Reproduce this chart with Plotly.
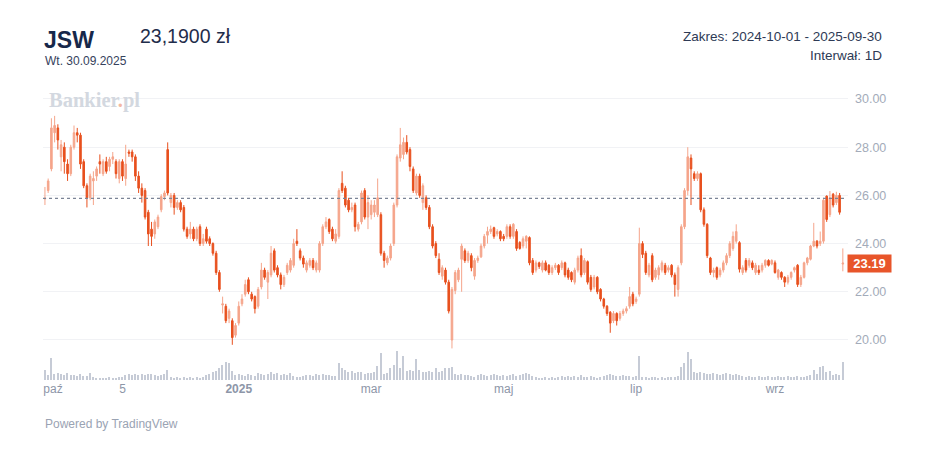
import pandas as pd
import plotly.graph_objects as go

# trading days on GPW, 2024-10-01 .. 2025-09-30
holidays = ["2024-11-01", "2024-11-11", "2024-12-24", "2024-12-25", "2024-12-26",
            "2024-12-31", "2025-01-01", "2025-01-06", "2025-04-18", "2025-04-21",
            "2025-05-01", "2025-06-19", "2025-08-15"]
days = pd.bdate_range("2024-10-01", "2025-09-30")
days = [d for d in days if d.strftime("%Y-%m-%d") not in holidays]
dates = [d.strftime("%d.%m.%Y") for d in days]

# OHLC, one line per month (paz .. wrz)
opens = [
    25.85, 26.2, 27.1, 28.6, 28.8, 27.6, 28.0, 27.3, 26.9, 28.0, 28.6, 28.5, 27.4, 26.4, 25.9, 26.6, 26.8, 27.4, 26.9, 27.4, 27.2, 27.5, 27.4,
    26.7, 27.4, 26.7, 27.8, 27.8, 27.6, 26.8, 26.3, 26.2, 25.3, 24.6, 24.4, 24.7, 25.4, 25.95, 27.9, 25.7, 26.0, 25.5,
    25.7, 25.5, 24.6, 24.4, 24.6, 24.2, 24.7, 24.0, 24.6, 24.2, 24.0, 23.6, 22.8, 21.45, 21.4, 20.9, 20.8, 20.2,
    20.7, 21.5, 21.9, 22.5, 21.9, 21.8, 21.4, 22.2, 22.9, 22.4, 22.7, 23.7, 23.0, 22.7, 22.3, 22.8, 22.9, 23.1, 24.1, 23.7, 23.4,
    22.9, 23.1, 23.3, 22.9, 22.9, 24.0, 24.7, 25.0, 24.6, 24.1, 24.3, 26.5, 26.3, 25.8, 25.4, 25.6, 24.6, 24.9, 26.2, 25.1,
    25.2, 25.3, 25.2, 25.2, 23.6, 23.2, 23.4, 24.0, 25.6, 27.55, 27.7, 28.2, 27.9, 27.1, 26.1, 26.8, 25.7, 25.9, 25.5, 24.7, 24.0,
    23.35, 22.65, 22.9, 22.4, 20.0, 22.05, 22.5, 23.35, 23.7, 23.3, 23.5, 22.65, 23.3, 23.45, 23.9, 24.35, 24.5, 24.66, 24.4, 24.5,
    24.3, 24.3, 24.7, 24.3, 24.5, 24.05, 23.9, 24.1, 24.25, 23.3, 22.9, 23.2, 22.9, 23.2, 23.1, 22.8, 23.0, 23.1, 23.0, 23.2, 22.9,
    22.8, 22.4, 22.9, 23.5, 22.8, 23.25, 22.6, 22.2, 22.6, 22.1, 21.7, 21.4, 21.15, 20.8, 21.1, 20.9, 21.1, 21.2, 21.4, 21.9,
    21.6, 21.9, 24.0, 23.6, 22.7, 23.5, 22.6, 22.7, 22.9, 23.1, 22.9, 23.1, 22.7, 22.1, 23.2, 24.7, 26.2, 27.55, 26.9, 26.7, 26.9, 25.4, 24.8,
    23.4, 22.8, 23.0, 22.7, 22.9, 23.2, 23.5, 23.8, 24.1, 24.04, 22.8, 23.3, 23.1, 23.2, 22.8, 22.9, 22.9, 23.1, 23.3, 23.15,
    23.2, 22.6, 22.8, 22.6, 22.4, 22.6, 22.9, 23.1, 22.3, 22.6, 23.2, 23.35, 23.9, 24.1, 24.0, 24.1, 25.97, 25.2, 26.05, 25.7, 26.0, 23.15,
]
highs = [
    26.35, 26.7, 29.2, 29.3, 28.95, 28.3, 28.2, 27.5, 28.1, 28.9, 28.8, 28.6, 27.5, 26.5, 26.9, 27.0, 27.2, 27.7, 27.5, 27.6, 27.6, 27.8, 27.5,
    27.5, 27.5, 28.1, 27.9, 27.9, 27.7, 27.0, 26.5, 26.3, 25.4, 24.9, 25.0, 25.2, 26.05, 26.2, 28.2, 26.1, 26.1, 25.8,
    25.8, 25.6, 24.7, 24.9, 24.7, 24.7, 24.8, 24.4, 24.7, 24.3, 24.05, 23.7, 22.9, 21.8, 21.5, 21.3, 20.9, 20.7,
    21.6, 21.9, 22.5, 22.6, 22.0, 21.85, 22.2, 23.2, 23.0, 22.9, 23.9, 23.8, 23.1, 22.8, 22.7, 23.2, 23.4, 24.2, 24.6, 23.8, 23.5,
    23.3, 23.4, 23.4, 23.3, 24.1, 24.8, 25.1, 25.05, 24.7, 24.6, 26.3, 27.0, 26.4, 25.9, 25.7, 25.7, 24.9, 26.2, 26.3, 26.0,
    25.8, 25.8, 26.7, 25.3, 23.7, 23.5, 24.0, 25.7, 27.7, 28.8, 28.4, 28.5, 28.0, 27.2, 26.9, 26.9, 26.5, 26.0, 25.6, 24.8, 24.1,
    23.6, 23.1, 23.0, 22.5, 22.2, 22.9, 23.0, 24.0, 23.8, 23.7, 23.6, 23.4, 23.5, 24.0, 24.4, 24.7, 24.75, 24.7, 24.6, 24.55,
    24.4, 24.8, 24.8, 24.85, 24.6, 24.1, 24.3, 24.35, 24.3, 23.4, 23.3, 23.25, 23.3, 23.3, 23.15, 23.1, 23.2, 23.15, 23.3, 23.25, 23.0,
    22.85, 23.0, 23.5, 23.8, 23.4, 23.3, 22.7, 22.7, 22.65, 22.15, 21.75, 21.45, 21.2, 21.2, 21.15, 21.2, 21.3, 21.4, 22.2, 22.0,
    21.8, 24.66, 24.1, 23.7, 23.2, 23.6, 23.0, 23.1, 23.3, 23.2, 23.1, 23.15, 22.8, 23.1, 24.8, 26.3, 28.0, 27.7, 27.0, 27.0, 26.95, 25.5, 24.85,
    23.45, 23.0, 23.05, 23.0, 23.3, 23.6, 24.1, 24.5, 24.8, 24.1, 23.1, 23.4, 23.4, 23.3, 23.2, 23.1, 23.2, 23.35, 23.35, 23.35,
    23.3, 22.95, 22.85, 22.65, 22.7, 22.85, 23.05, 23.15, 22.7, 23.25, 23.45, 23.95, 24.86, 24.15, 24.5, 25.9, 26.0, 26.18, 26.1, 26.15, 26.1, 23.8,
]
lows = [
    25.6, 26.1, 27.0, 28.2, 27.9, 27.0, 26.9, 26.6, 26.8, 27.9, 28.2, 27.1, 26.3, 25.5, 25.8, 25.6, 26.6, 26.9, 26.8, 26.9, 27.0, 27.3, 26.7,
    26.5, 26.6, 26.4, 27.6, 27.4, 26.6, 26.1, 25.7, 25.0, 23.9, 23.9, 24.2, 24.6, 25.3, 25.8, 26.0, 25.5, 25.2, 25.4,
    25.3, 24.5, 24.2, 24.2, 24.1, 24.1, 23.9, 23.9, 24.0, 23.9, 23.5, 22.7, 22.0, 21.1, 20.7, 20.7, 19.8, 20.1,
    20.6, 21.4, 21.8, 21.9, 21.6, 21.1, 21.3, 22.1, 22.5, 21.7, 22.6, 22.8, 22.6, 22.1, 22.2, 22.7, 22.8, 23.0, 23.9, 23.3, 23.0,
    22.8, 23.0, 22.9, 22.8, 22.8, 23.9, 24.6, 24.4, 24.1, 24.0, 24.2, 26.1, 25.5, 25.3, 25.3, 24.5, 24.5, 24.8, 25.0, 24.6,
    25.0, 25.1, 25.1, 23.5, 23.0, 23.1, 23.3, 23.9, 25.5, 27.4, 27.5, 27.7, 27.0, 26.1, 26.0, 25.9, 25.4, 25.4, 24.6, 23.8, 23.4,
    22.7, 22.5, 22.3, 21.1, 19.65, 21.9, 22.4, 22.0, 23.2, 23.2, 22.85, 22.5, 23.2, 23.4, 23.8, 24.0, 24.4, 24.2, 24.3, 24.1,
    24.1, 24.2, 24.2, 24.2, 23.7, 23.75, 23.8, 23.8, 23.1, 22.7, 22.8, 22.95, 22.8, 22.85, 22.7, 22.7, 22.9, 22.7, 22.9, 22.6, 22.5,
    22.4, 22.3, 22.8, 22.6, 22.7, 22.3, 22.0, 22.1, 21.9, 21.6, 21.3, 21.0, 20.3, 20.7, 20.6, 20.8, 21.0, 21.1, 21.3, 21.4,
    21.5, 21.8, 23.4, 22.7, 22.6, 22.4, 22.5, 22.5, 22.8, 22.7, 22.8, 22.6, 21.8, 21.8, 23.1, 24.6, 26.0, 25.6, 26.6, 26.6, 25.3, 24.7, 23.4,
    22.7, 22.6, 22.5, 22.6, 22.8, 23.1, 23.4, 23.7, 24.0, 22.8, 22.7, 22.8, 23.0, 22.9, 22.7, 22.7, 22.8, 23.0, 23.05, 23.1,
    22.75, 22.5, 22.5, 22.2, 22.3, 22.5, 22.8, 22.2, 22.2, 22.55, 23.1, 23.3, 23.85, 23.8, 23.9, 24.0, 24.9, 25.1, 25.5, 25.6, 25.2, 22.85,
]
closes = [
    25.88, 26.6, 28.8, 28.9, 28.3, 28.1, 27.4, 26.9, 28.0, 28.6, 28.5, 27.3, 26.4, 25.9, 26.8, 26.7, 27.1, 27.3, 27.4, 27.0, 27.5, 27.6, 26.9,
    27.4, 26.8, 27.3, 27.75, 27.6, 26.8, 26.3, 26.0, 25.1, 24.4, 24.3, 24.9, 25.1, 25.95, 26.1, 26.1, 26.0, 25.5, 25.7,
    25.4, 24.6, 24.3, 24.6, 24.2, 24.6, 24.0, 24.2, 24.1, 24.0, 23.6, 22.8, 22.1, 21.5, 20.8, 21.2, 20.1, 20.6,
    21.4, 21.7, 22.3, 22.0, 21.7, 21.3, 22.1, 22.9, 22.6, 22.8, 23.6, 22.9, 22.7, 22.3, 22.6, 23.1, 23.3, 24.0, 24.0, 23.4, 23.15,
    23.2, 23.3, 23.0, 23.2, 24.0, 24.7, 24.9, 24.5, 24.2, 24.4, 26.2, 26.2, 25.6, 25.4, 25.5, 24.7, 24.8, 26.1, 25.1, 25.7,
    25.6, 25.6, 25.9, 23.6, 23.3, 23.4, 23.9, 25.6, 27.6, 28.1, 28.2, 27.8, 27.2, 26.2, 26.8, 26.0, 26.4, 25.5, 24.7, 23.9, 23.5,
    22.8, 23.0, 22.4, 21.2, 22.1, 22.8, 22.9, 23.9, 23.3, 23.6, 23.0, 23.3, 23.4, 23.9, 24.3, 24.5, 24.6, 24.3, 24.5, 24.2,
    24.2, 24.7, 24.3, 24.8, 23.8, 23.8, 24.2, 24.3, 23.2, 22.8, 23.2, 23.05, 23.2, 22.9, 22.8, 23.0, 23.1, 22.8, 23.2, 22.7, 22.6,
    22.5, 22.9, 23.4, 22.7, 23.3, 22.4, 22.1, 22.6, 22.0, 21.7, 21.4, 21.1, 20.7, 21.1, 20.8, 21.1, 21.2, 21.3, 21.8, 21.5,
    21.7, 24.0, 23.55, 22.8, 23.1, 22.5, 22.9, 23.0, 23.2, 22.8, 23.0, 22.7, 22.3, 23.0, 24.7, 26.2, 27.6, 27.1, 26.7, 26.9, 25.4, 24.8, 23.5,
    22.8, 22.9, 22.6, 22.9, 23.2, 23.5, 24.0, 24.3, 24.5, 22.94, 23.0, 22.9, 23.3, 23.0, 23.1, 22.8, 23.1, 23.3, 23.1, 23.3,
    22.8, 22.9, 22.6, 22.4, 22.6, 22.8, 23.0, 22.3, 22.6, 23.2, 23.4, 23.9, 24.1, 23.9, 24.1, 25.8, 25.0, 25.9, 25.6, 26.0, 25.3, 23.19,
]
# volume, mln shares
volumes = [
    1.0, 0.5, 2.2, 0.6, 0.7, 0.6, 0.5, 0.7, 0.5, 0.5, 0.4, 0.6, 0.4, 0.4, 0.7, 0.3, 0.2, 0.2, 0.2, 0.2, 0.3, 0.2, 0.2,
    0.3, 0.3, 0.5, 0.6, 0.5, 0.6, 0.5, 0.6, 0.5, 0.6, 0.6, 0.5, 0.4, 0.5, 0.6, 1.0, 0.3, 0.2, 0.3,
    0.2, 0.3, 0.2, 0.3, 0.2, 0.3, 0.2, 0.3, 0.5, 0.6, 0.8, 0.9, 1.2, 1.5, 1.8, 1.7, 0.9, 0.5,
    0.6, 0.5, 0.4, 0.6, 0.5, 0.4, 0.7, 0.6, 0.5, 0.6, 0.8, 0.6, 0.7, 0.5, 0.6, 0.5, 0.7, 0.4, 0.3, 0.3, 0.4,
    0.5, 0.5, 0.4, 0.6, 0.5, 0.6, 0.5, 0.5, 0.4, 0.4, 1.7, 1.2, 1.0, 0.8, 0.9, 0.7, 0.8, 0.8, 0.6, 0.7,
    0.7, 0.8, 1.4, 2.7, 0.6, 0.7, 1.2, 1.5, 2.9, 1.2, 2.4, 0.9, 1.0, 0.9, 2.1, 1.0, 0.8, 0.8, 0.9, 0.8, 1.2,
    0.8, 0.9, 1.2, 1.2, 1.3, 0.6, 0.5, 0.6, 0.5, 0.5, 0.4, 0.3, 0.5, 0.6, 0.5, 0.4, 0.5, 0.6, 0.5, 0.4,
    0.5, 0.4, 0.5, 0.6, 0.4, 0.5, 0.6, 0.7, 0.6, 0.4, 0.3, 0.2, 0.2, 0.3, 0.2, 0.3, 0.2, 0.3, 0.4, 0.3, 0.4,
    0.3, 0.4, 0.3, 0.5, 0.3, 0.3, 0.4, 0.3, 0.2, 0.3, 0.4, 0.5, 0.6, 0.5, 0.4, 0.4, 0.5, 0.4, 0.4, 0.3,
    0.4, 2.4, 0.3, 0.3, 0.2, 0.3, 0.3, 0.2, 0.3, 0.2, 0.3, 0.3, 0.3, 0.4, 1.3, 1.7, 2.8, 2.1, 0.8, 0.7, 0.8, 0.7, 0.6,
    0.6, 0.7, 0.6, 0.5, 0.6, 0.7, 0.6, 0.5, 0.6, 0.5, 0.4, 0.3, 0.4, 0.3, 0.3, 0.4, 0.3, 0.3, 0.4, 0.3,
    0.3, 0.4, 0.3, 0.3, 0.4, 0.3, 0.3, 0.4, 0.3, 0.3, 0.4, 0.5, 1.0, 0.6, 1.3, 1.4, 0.8, 0.9, 0.5, 0.6, 0.5, 1.8,
]

tick_pos = [2.5, 24, 60, 101, 142, 183, 226]
tick_text = ["paź", "5", "<b>2025</b>", "mar", "maj", "lip", "wrz"]
price_ticks = [20, 22, 24, 26, 28, 30]

n = len(closes)
idx = list(range(n))

# the page body has an 8px margin, so the figure is drawn 8px smaller
OFF = 8
W, H = 948 - OFF, 474 - OFF
# plot box in window pixels
L, R, T, B = 43, 848, 88, 380


def paper(xp, yp):
    return (xp - L) / (R - L), (B - yp) / (B - T)


fig = go.Figure()

fig.add_trace(go.Bar(
    x=idx, y=volumes, yaxis="y2", width=0.45,
    marker=dict(color="#c6cbd6", line_width=0),
    hoverinfo="skip",
))

fig.add_trace(go.Candlestick(
    x=idx, open=opens, high=highs, low=lows, close=closes,
    text=dates, hoverinfo="text+y",
    increasing=dict(line=dict(color="#f5a58b", width=1), fillcolor="#f5a58b"),
    decreasing=dict(line=dict(color="#e8501e", width=1), fillcolor="#e8501e"),
    whiskerwidth=0,
))

# reference line (start of range)
fig.add_shape(type="line", xref="paper", yref="y",
              x0=0, x1=0.997, y0=closes[0], y1=closes[0],
              line=dict(color="#7b8496", width=1.3, dash="dot"))

ann = []


def label(text, xp, yp, size, color, anchor="left", **kw):
    x, y = paper(xp, yp)
    ann.append(dict(text=text, x=x, y=y, xref="paper", yref="paper",
                    xanchor=anchor, yanchor="middle", showarrow=False,
                    font=dict(size=size, color=color,
                              family=kw.pop("family", "Liberation Sans")), **kw))


label("<b>JSW</b>", 42, 40, 23, "#17284a")
label("Wt. 30.09.2025", 43, 61.5, 12, "#36425c")
label("23,1900 zł", 138, 36, 19.5, "#1f2d4b")
label("Zakres: 2024-10-01 - 2025-09-30", 884, 36.5, 13.5, "#2e3a55", anchor="right")
label("Interwał: 1D", 884, 55, 13.5, "#2e3a55", anchor="right")
label("<b>Bankier<span style='color:#f3b8a2'>.</span>pl</b>", 47, 100, 20.5,
      "#d3d8e0", family="Liberation Serif")
label("Powered by TradingView", 43, 424, 12, "#9aa3b3")

# last price badge
ann.append(dict(text="<b>23.19</b>", x=paper(847, 0)[0], y=closes[-1],
                xref="paper", yref="y", xanchor="left", yanchor="middle",
                showarrow=False, bgcolor="#e8552a", width=41, height=15,
                borderpad=1, font=dict(size=13, color="white",
                                       family="Liberation Sans")))

fig.update_layout(
    width=W, height=H,
    margin=dict(l=L - OFF, r=948 - R, t=T - OFF, b=474 - B),
    paper_bgcolor="white", plot_bgcolor="white",
    showlegend=False,
    annotations=ann,
    font=dict(family="Liberation Sans"),
    xaxis=dict(range=[-0.6, 248.6], showgrid=False, zeroline=False,
               tickmode="array", tickvals=tick_pos, ticktext=tick_text,
               tickfont=dict(size=12, color="#8d96a8"), ticks="",
               rangeslider=dict(visible=False), fixedrange=True),
    yaxis=dict(range=[18.34, 30.456], side="right", tickvals=price_ticks,
               tickformat=".2f", tickfont=dict(size=12.5, color="#a3abb9"),
               gridcolor="#f1f2f5", gridwidth=1, zeroline=False, ticks="",
               ticklabelstandoff=6),
    yaxis2=dict(range=[0, 29.2], overlaying="y", visible=False),
    bargap=0,
)

fig.write_html("out.html")
